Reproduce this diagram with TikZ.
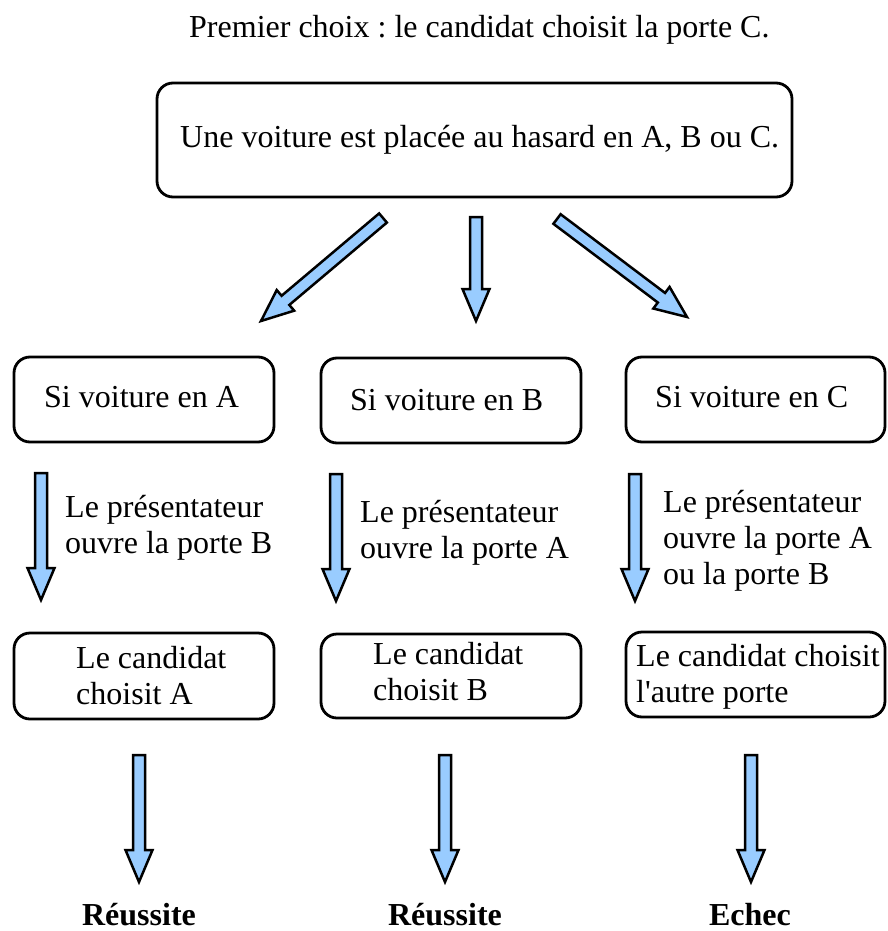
\documentclass[tikz,border=0pt]{standalone}
\usepackage{fontspec}
\setmainfont{Liberation Serif}
\usetikzlibrary{calc}
\frenchspacing
\definecolor{arrowblue}{HTML}{99CCFF}
\tikzset{
  txt/.style={inner sep=0pt, anchor=base west, font=\fontsize{32}{36}\selectfont\frenchspacing},
  res/.style={inner sep=0pt, anchor=base, font=\fontsize{32}{36}\selectfont\bfseries},
  box/.style={draw, line width=2.8pt, rounded corners=16pt, inner sep=0pt},
  blockarrow/.style={draw, fill=arrowblue, line width=2.5pt, line join=miter}
}
\newcommand\bluearrow[3]{%
  \coordinate (#1-hb) at ($(#3)!32pt!(#2)$);
  \draw[blockarrow] ($(#2)!6pt!90:(#3)$) -- ($(#1-hb)!6pt!90:(#3)$) -- ($(#1-hb)!13.5pt!90:(#3)$) -- (#3) -- ($(#1-hb)!13.5pt!-90:(#3)$) -- ($(#1-hb)!6pt!-90:(#3)$) -- ($(#2)!6pt!-90:(#3)$) -- cycle;}
\begin{document}
\begin{tikzpicture}[x=1pt,y=-1pt]
\useasboundingbox (0,0) rectangle (887,931);
% title
\node[txt] (title) at (189,38) {Premier choix : le candidat choisit la porte C.};
% boxes
\node[box, minimum width=635pt, minimum height=114pt] (top) at (474.5,140) {};
\node[txt] (toptxt) at (180,147) {Une voiture est placée au hasard en A, B ou C.};
\node[box, minimum width=260pt, minimum height=85pt] (sa) at (144,399.5) {};
\node[box, minimum width=260pt, minimum height=85pt] (sb) at (451,400.5) {};
\node[box, minimum width=259pt, minimum height=85pt] (sc) at (755.5,399.5) {};
\node[txt] (satxt) at (44,407) {Si voiture en A};
\node[txt] (sbtxt) at (350,410) {Si voiture en B};
\node[txt] (sctxt) at (655,407) {Si voiture en C};
\node[box, minimum width=260pt, minimum height=86pt] (ca) at (144,676) {};
\node[box, minimum width=260pt, minimum height=84pt] (cb) at (451,676) {};
\node[box, minimum width=259pt, minimum height=85pt] (cc) at (755.5,674.5) {};
\node[txt] (catxt) at (76,668) {\begin{tabular}[t]{@{}l@{}}Le candidat\\choisit A\end{tabular}};
\node[txt] (cbtxt) at (373,664) {\begin{tabular}[t]{@{}l@{}}Le candidat\\choisit B\end{tabular}};
\node[txt] (cctxt) at (636,666) {\begin{tabular}[t]{@{}l@{}}Le candidat choisit\\l\textquotesingle autre porte\end{tabular}};
% presenter texts
\node[txt] (pa) at (65,517) {\begin{tabular}[t]{@{}l@{}}Le présentateur\\ouvre la porte B\end{tabular}};
\node[txt] (pb) at (360,522) {\begin{tabular}[t]{@{}l@{}}Le présentateur\\ouvre la porte A\end{tabular}};
\node[txt] (pc) at (663,512) {\begin{tabular}[t]{@{}l@{}}Le présentateur\\ouvre la porte A\\ou la porte B\end{tabular}};
% results
\node[res] (ra) at (139,925) {Réussite};
\node[res] (rb) at (445,925) {Réussite};
\node[res] (rc) at (750,925) {Echec};
% arrow end points
\coordinate (l1t) at (383,218); \coordinate (l1h) at (261,321);
\coordinate (m1t) at (476,217); \coordinate (m1h) at (476,321);
\coordinate (r1t) at (557,219); \coordinate (r1h) at (687,317);
\coordinate (a2t) at (41,473);  \coordinate (a2h) at (41,600);
\coordinate (b2t) at (336,474); \coordinate (b2h) at (336,601);
\coordinate (c2t) at (635,474); \coordinate (c2h) at (635,601);
\coordinate (a3t) at (139,755); \coordinate (a3h) at (139,882);
\coordinate (b3t) at (445,755); \coordinate (b3h) at (445,882);
\coordinate (c3t) at (751,755); \coordinate (c3h) at (751,882);
\bluearrow{l1}{l1t}{l1h}
\bluearrow{m1}{m1t}{m1h}
\bluearrow{r1}{r1t}{r1h}
\bluearrow{a2}{a2t}{a2h}
\bluearrow{b2}{b2t}{b2h}
\bluearrow{c2}{c2t}{c2h}
\bluearrow{a3}{a3t}{a3h}
\bluearrow{b3}{b3t}{b3h}
\bluearrow{c3}{c3t}{c3h}
\end{tikzpicture}
\end{document}
